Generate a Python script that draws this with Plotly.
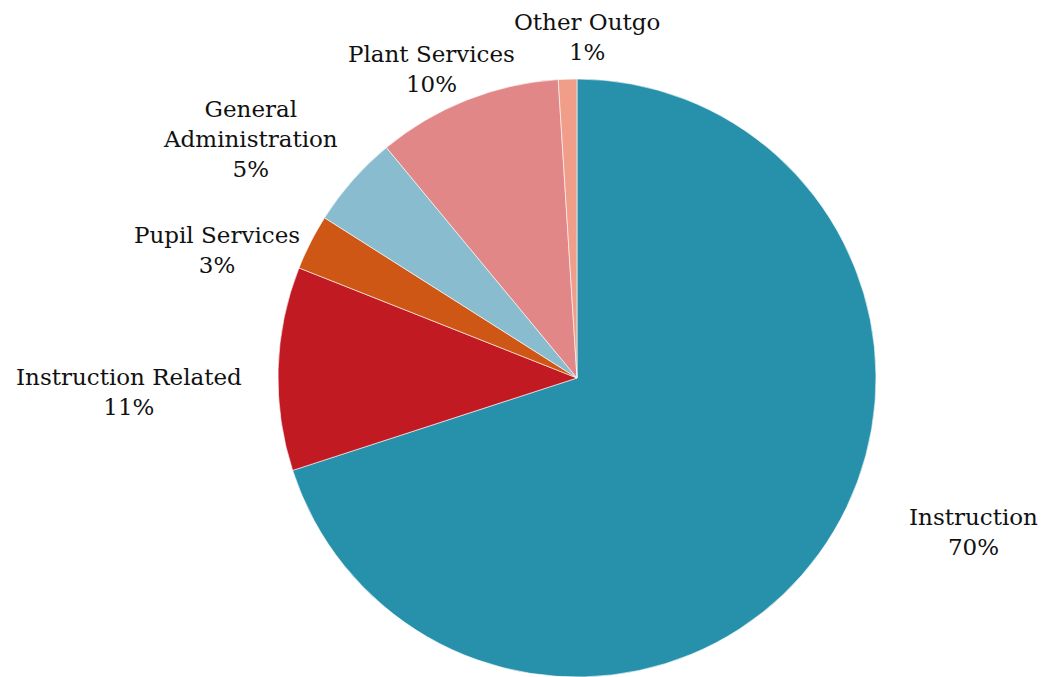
import plotly.graph_objects as go

# Expenditure shares by function (percent of total)
categories = ["Instruction", "Instruction Related", "Pupil Services",
              "General Administration", "Plant Services", "Other Outgo"]
shares = [70, 11, 3, 5, 10, 1]
colors = ["#2790ab", "#c11a22", "#cf5716", "#89bccf", "#e28788", "#f09d8a"]

# Display text for each slice label ("General Administration" wraps)
label_text = ["Instruction", "Instruction Related", "Pupil Services",
              "General<br>Administration", "Plant Services", "Other Outgo"]

W, H = 1045, 677
cx, cy, r = 577, 379, 300

# Pixel centres of the outside label blocks
label_pos = [(973, 532), (129, 392), (217, 250), (250, 139), (431, 69), (587, 37)]

fig = go.Figure(go.Pie(
    labels=categories,
    values=shares,
    sort=False,
    direction="clockwise",
    rotation=0,
    marker=dict(colors=colors, line=dict(color="white", width=0.6)),
    textinfo="none",
    hoverinfo="label+percent",
    showlegend=False,
    domain=dict(x=[(cx - r) / W, (cx + r) / W],
                y=[max(0, (H - cy - r) / H), min(1, (H - cy + r) / H)]),
))

total = sum(shares)
for txt, val, (px, py) in zip(label_text, shares, label_pos):
    fig.add_annotation(
        x=px / W, y=1 - py / H, xref="paper", yref="paper",
        text=f"{txt}<br>{round(100 * val / total)}%",
        showarrow=False, xanchor="center", yanchor="middle", align="center",
        font=dict(family="DejaVu Serif", size=23, color="#111111"),
    )

fig.update_layout(
    width=W, height=H,
    margin=dict(l=0, r=0, t=0, b=0),
    paper_bgcolor="white",
    plot_bgcolor="white",
)

fig.write_html("out.html")
